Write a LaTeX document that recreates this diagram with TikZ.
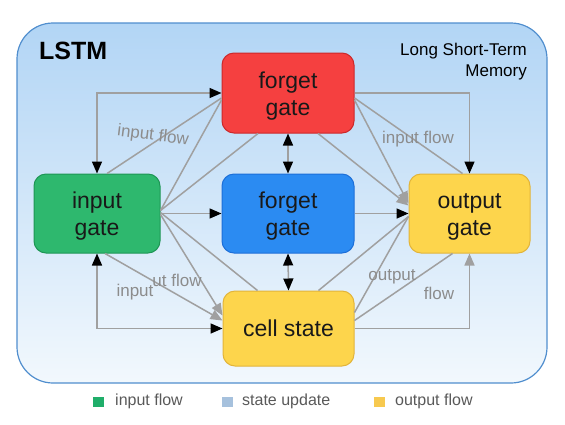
\documentclass[tikz,border=0pt]{standalone}
\usepackage{fontspec}
\setmainfont{Liberation Sans}
\usetikzlibrary{arrows.meta,calc}

\definecolor{framebd}{RGB}{80,142,206}
\definecolor{frametop}{RGB}{178,213,245}
\definecolor{framebot}{RGB}{242,248,253}
\definecolor{redfill}{RGB}{245,64,64}
\definecolor{redbd}{RGB}{204,40,42}
\definecolor{greenfill}{RGB}{46,184,110}
\definecolor{greenbd}{RGB}{30,150,85}
\definecolor{bluefill}{RGB}{43,139,242}
\definecolor{bluebd}{RGB}{29,111,216}
\definecolor{yellowfill}{RGB}{253,213,76}
\definecolor{yellowbd}{RGB}{226,180,58}
\definecolor{linegray}{RGB}{160,160,160}
\definecolor{labelgray}{RGB}{140,140,140}
\definecolor{keygreen}{RGB}{32,174,106}
\definecolor{keyblue}{RGB}{166,193,221}
\definecolor{keyyellow}{RGB}{247,201,79}

\newcommand{\lowtext}[1]{\raisebox{-3pt}[\height][\depth]{#1}}

\tikzset{
  gate/.style={rounded corners=12pt, line width=1pt, inner sep=0pt, align=center,
    font=\fontsize{23}{27}\selectfont, text=black!90},
  gline/.style={draw=linegray, line width=1.5pt},
  flowlabel/.style={text=labelgray, inner sep=0pt, font=\fontsize{17}{20}\selectfont},
  keybox/.style={minimum width=11pt, minimum height=10pt, inner sep=0pt},
  keytext/.style={anchor=west, inner sep=0pt, text=black!65, font=\fontsize{16}{19}\selectfont},
  blk/.tip={Triangle[length=12pt,width=10pt,color=black]},
  gry/.tip={Triangle[length=12pt,width=10pt,color=linegray]}
}

\begin{document}
\begin{tikzpicture}[x=1pt,y=1pt,yscale=-1,xscale=1]
\useasboundingbox (0,0) rectangle (565,424);

%Rounded Rect frame
\draw [draw=framebd, line width=1.2pt, rounded corners=36pt, top color=frametop, bottom color=framebot] (17,23) rectangle (547,383) ;

%Titles
\node [anchor=west, inner sep=0pt, font=\fontsize{25}{28}\selectfont\bfseries] (title) at (39,51) {LSTM};
\node [anchor=east, inner sep=0pt, align=right, font=\fontsize{17}{21}\selectfont] (subtitle) at (527,62) {Long Short-Term\\Memory};

%Gates
\node [gate, fill=redfill, draw=redbd, minimum width=132pt, minimum height=80pt] (fgtop) at (288,93) {\lowtext{forget}\\\lowtext{gate}};
\node [gate, fill=greenfill, draw=greenbd, minimum width=126pt, minimum height=79pt] (input) at (97,213.5) {\lowtext{input}\\\lowtext{gate}};
\node [gate, fill=bluefill, draw=bluebd, minimum width=132pt, minimum height=79pt] (fgmid) at (288,213.5) {\lowtext{forget}\\\lowtext{gate}};
\node [gate, fill=yellowfill, draw=yellowbd, minimum width=121pt, minimum height=79pt] (output) at (469.5,213.5) {\lowtext{output}\\\lowtext{gate}};
\node [gate, fill=yellowfill, draw=yellowbd, minimum width=131pt, minimum height=75pt] (cell) at (288.5,328.5) {cell state};

%Elbow Lines
\draw [gline, blk-blk] (input.north) |- (fgtop.west) ;
\draw [gline, -blk] (fgtop.east) -| (output.north) ;
\draw [gline, blk-blk] (input.south) |- (cell.west) ;
\draw [gline, -gry] (cell.east) -| (output.south) ;

%Straight Lines
\draw [gline, -blk] (input.east) -- (fgmid.west) ;
\draw [gline, -blk] (fgmid.east) -- (output.west) ;
\draw [gline, blk-blk] (fgtop.south) -- (fgmid.north) ;
\draw [gline, blk-blk] (fgmid.south) -- (cell.north) ;

%Diagonal Lines left
\draw [gline] ($(input.north)+(10,0)$) -- ($(fgtop.west)+(0,5)$) ;
\draw [gline] ($(input.east)+(0,-3)$) -- ($(fgtop.west)+(0,7)$) ;
\draw [gline] ($(input.east)+(0,-3)$) -- ($(fgtop.south)+(-30,0)$) ;
\draw [gline] ($(input.east)+(0,-1)$) -- ($(cell.north)+(-31,0)$) ;
\draw [gline, -gry] ($(input.east)+(0,1)$) -- ($(cell.west)+(0,-13)$) ;
\draw [gline, -gry] ($(input.south)+(8,0)$) -- ($(cell.west)+(0,-8)$) ;

%Diagonal Lines right
\draw [gline] ($(fgtop.east)+(0,5)$) -- ($(output.north)+(-7,0)$) ;
\draw [gline, -gry] ($(fgtop.east)+(0,7)$) -- ($(output.west)+(0,-10)$) ;
\draw [gline, -gry] ($(fgtop.south)+(30,0)$) -- ($(output.west)+(0,-8)$) ;
\draw [gline] ($(cell.north)+(30,0)$) -- ($(output.west)+(0,3)$) ;
\draw [gline] ($(cell.east)+(0,-16)$) -- ($(output.west)+(0,3)$) ;
\draw [gline] ($(cell.east)+(0,-8)$) -- ($(output.south)+(-17,0)$) ;

%Flow labels
\node [flowlabel, rotate=-7] (lblinflowa) at (153,136) {input flow};
\node [flowlabel] (lblinflowb) at (418,139) {input flow};
\node [flowlabel] (lblutflow) at (177,280) {ut flow};
\node [flowlabel] (lblinput) at (135,292) {input};
\node [flowlabel] (lbloutput) at (392,277) {output};
\node [flowlabel] (lblflow) at (439,293) {flow};

%Legend
\node [keybox, fill=keygreen] (keyin) at (98.5,401.5) {};
\node [keytext] (keyintext) at (115,401) {input flow};
\node [keybox, fill=keyblue] (keystate) at (227,401.5) {};
\node [keytext] (keystatetext) at (242,401) {state update};
\node [keybox, fill=keyyellow] (keyout) at (379.5,401.5) {};
\node [keytext] (keyouttext) at (395,401) {output flow};
\end{tikzpicture}
\end{document}
